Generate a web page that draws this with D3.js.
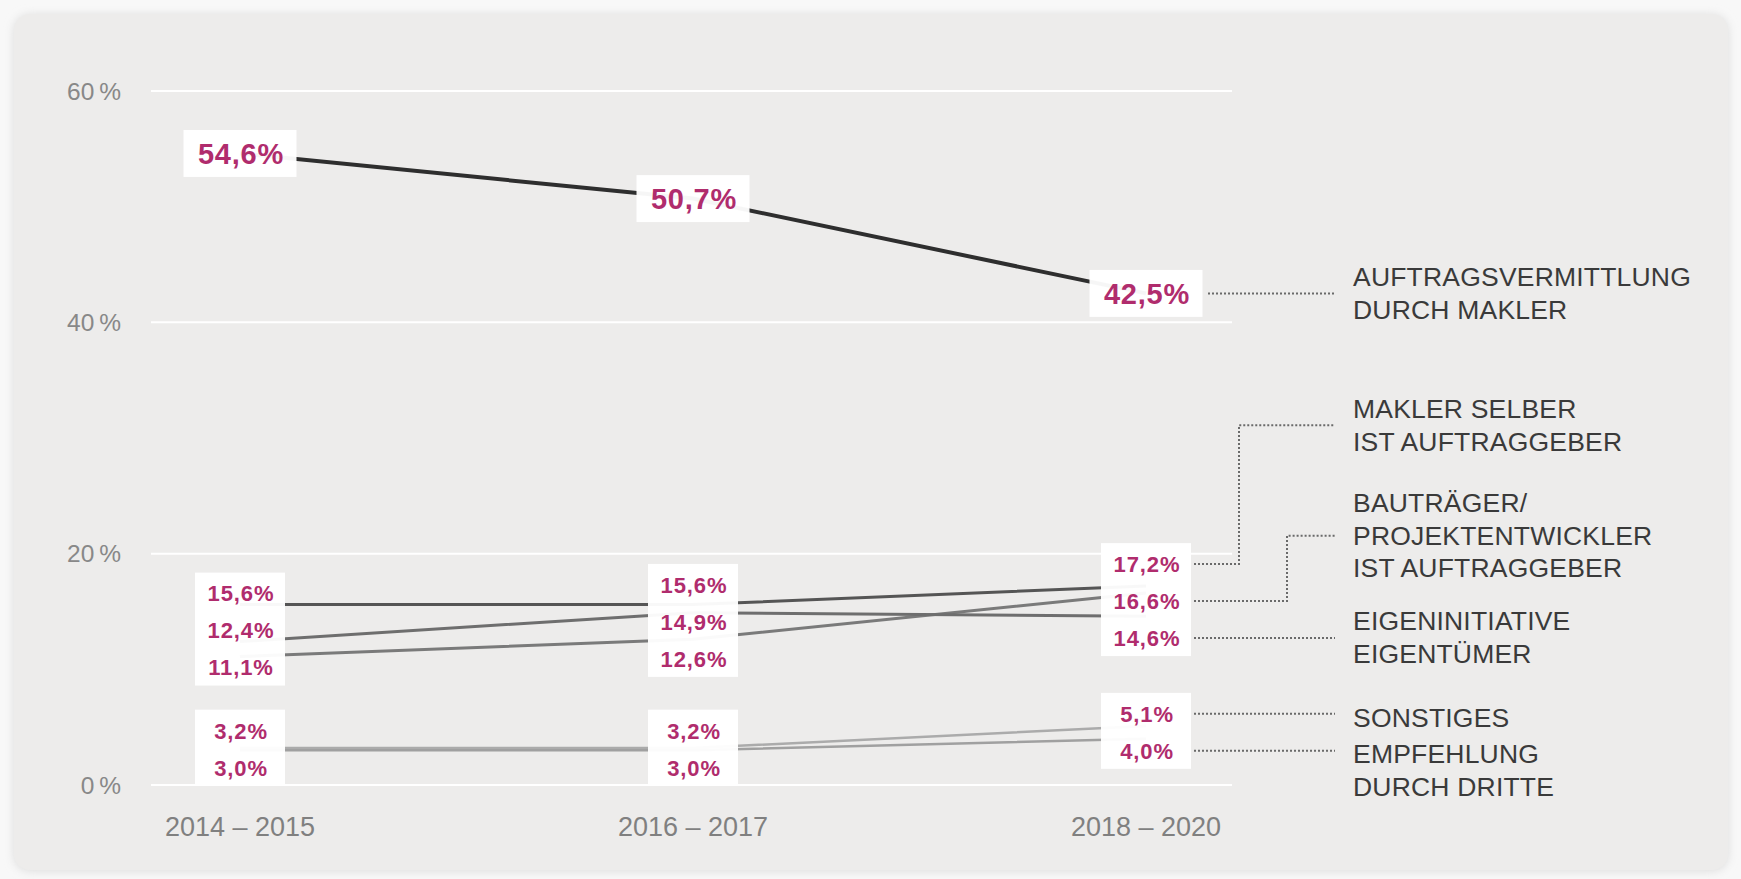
<!DOCTYPE html>
<html>
<head>
<meta charset="utf-8">
<script src="https://cdn.jsdelivr.net/npm/d3@7"></script>
<style>
html, body { margin: 0; padding: 0; background: #f8f8f8; }
svg { display: block; font-family: "Liberation Sans", Arial, Helvetica, sans-serif; }
</style>
</head>
<body>
<svg id="chart" width="1741" height="879"></svg>
<script>
// data
const periods = ["2014 – 2015", "2016 – 2017", "2018 – 2020"];
const yTicks = [0, 20, 40, 60];

const seriesKeys = ["makler", "maklerSelber", "bautraeger", "eigeninitiative", "sonstiges", "empfehlung"];
const makler = [54.6, 50.7, 42.5];
const maklerSelber = [15.6, 15.6, 17.2];
const bautraeger = [11.1, 12.6, 16.6];
const eigeninitiative = [12.4, 14.9, 14.6];
const sonstiges = [3.2, 3.2, 5.1];
const empfehlung = [3.0, 3.0, 4.0];

const legendText = [
    ["AUFTRAGSVERMITTLUNG", "DURCH MAKLER"],
    ["MAKLER SELBER", "IST AUFTRAGGEBER"],
    ["BAUTRÄGER/", "PROJEKTENTWICKLER", "IST AUFTRAGGEBER"],
    ["EIGENINITIATIVE", "EIGENTÜMER"],
    ["SONSTIGES"],
    ["EMPFEHLUNG", "DURCH DRITTE"]
];

// styles / layout
const lineColors = ["#2e2e2e", "#555555", "#7a7a7a", "#6e6e6e", "#ababab", "#a0a0a0"];
const lineWidths = [4, 3, 3, 3, 2.5, 2.5];
const legendBaseline = [286, 418, 512, 630, 727, 763];
const legendAnchorLine = [0.5, 0.5, 1, 0.5, 0, 0];
const elbowX = [null, 1239, 1287, null, null, null];
const legendLineH = 32.7;

const values = [makler, maklerSelber, bautraeger, eigeninitiative, sonstiges, empfehlung];
const series = seriesKeys.map((k, i) => ({ key: k, idx: i, values: values[i] }));

const svg = d3.select("#chart");

// card
const defs = svg.append("defs");
const f = defs.append("filter").attr("id", "shadow").attr("x", "-5%").attr("y", "-5%").attr("width", "110%").attr("height", "110%");
f.append("feGaussianBlur").attr("stdDeviation", 5);
svg.append("rect").attr("x", 14).attr("y", 15).attr("width", 1714).attr("height", 856)
    .attr("rx", 16).attr("fill", "#dcdcdc").attr("filter", "url(#shadow)");
svg.append("rect").attr("x", 14).attr("y", 14).attr("width", 1714).attr("height", 856)
    .attr("rx", 16).attr("fill", "#edeceb");

const x = d3.scalePoint().domain(periods).range([240, 1146]);
const y = d3.scaleLinear().domain([0, 60]).range([785, 91]);

// gridlines + y labels
svg.append("g").selectAll("line").data(yTicks).enter().append("line")
    .attr("x1", 151).attr("x2", 1232)
    .attr("y1", d => y(d)).attr("y2", d => y(d))
    .attr("stroke", "#ffffff").attr("stroke-width", 2);

svg.append("g").selectAll("text").data(yTicks).enter().append("text")
    .attr("x", 121).attr("y", d => y(d) + 8.8)
    .attr("text-anchor", "end")
    .attr("font-size", 24.5).attr("fill", "#888888")
    .text(d => d + "\u2009%");

// x labels
svg.append("g").selectAll("text").data(periods).enter().append("text")
    .attr("x", d => x(d)).attr("y", 836)
    .attr("text-anchor", "middle")
    .attr("font-size", 27).attr("fill", "#808080")
    .text(d => d);

// lines
const line = d3.line().x((d, i) => x(periods[i])).y(d => y(d));
svg.append("g").selectAll("path").data(series).enter().append("path")
    .attr("d", d => line(d.values))
    .attr("fill", "none")
    .attr("stroke", d => lineColors[d.idx])
    .attr("stroke-width", d => lineWidths[d.idx]);

// value labels, stacked in clusters per period
const fmt = v => d3.format(".1f")(v).replace(".", ",") + "%";
const rowH = 37;
const labelPos = series.map(() => []);
const boxes = [];
periods.forEach((p, pi) => {
    const sorted = series.slice().sort((a, b) => b.values[pi] - a.values[pi]);
    const clusters = [];
    sorted.forEach(s => {
        const last = clusters[clusters.length - 1];
        if (last && last[last.length - 1].values[pi] - s.values[pi] < 6) last.push(s);
        else clusters.push([s]);
    });
    clusters.forEach(c => {
        const big = c.length === 1;
        const ys = c.map(s => y(s.values[pi]));
        const mid = (d3.min(ys) + d3.max(ys)) / 2;
        const rows = c.map((s, i) => ({ s, cy: mid + (i - (c.length - 1) / 2) * rowH }));
        rows.forEach(r => { labelPos[r.s.idx][pi] = r.cy; });
        boxes.push({ pi, big, rows });
    });
});

const boxW = b => b.big ? 113 : 90;
const gBox = svg.append("g");
gBox.selectAll("rect").data(boxes).enter().append("rect")
    .attr("x", d => x(periods[d.pi]) - boxW(d) / 2)
    .attr("width", d => boxW(d))
    .attr("y", d => d.big ? d.rows[0].cy - 23.5 : d.rows[0].cy - 21)
    .attr("height", d => d.big ? 47 : (d.rows[d.rows.length - 1].cy + 18) - (d.rows[0].cy - 21))
    .attr("fill", "#ffffff").attr("fill-opacity", 0.96);

boxes.forEach(b => {
    gBox.selectAll(null).data(b.rows).enter().append("text")
        .attr("x", x(periods[b.pi]) + 1)
        .attr("y", r => r.cy + (b.big ? 10.3 : 7.9))
        .attr("text-anchor", "middle")
        .attr("font-weight", "bold")
        .attr("font-size", b.big ? 29 : 22)
        .attr("letter-spacing", b.big ? 0.8 : 0.9)
        .attr("fill", "#b02c6d")
        .text(r => fmt(r.s.values[b.pi]));
});

// connectors + legend
const lastX = x(periods[periods.length - 1]);
const x0 = lastX + 48, x1 = 1335;
const gLeg = svg.append("g");
series.forEach(s => {
    const i = s.idx;
    const ly = labelPos[i][periods.length - 1];
    const ay = legendBaseline[i] - 9 + legendAnchorLine[i] * legendLineH;
    let pts;
    if (elbowX[i] !== null) {
        pts = [[x0, ly], [elbowX[i], ly], [elbowX[i], ay], [x1, ay]];
    } else {
        pts = [[i === 0 ? lastX + 62 : x0, ly], [x1, ly]];
    }
    gLeg.append("path")
        .attr("d", d3.line()(pts))
        .attr("fill", "none")
        .attr("stroke", "#6a6a6a")
        .attr("stroke-width", 2)
        .attr("stroke-dasharray", "2,2");

    gLeg.append("text")
        .attr("x", 1353)
        .attr("font-size", 26.5)
        .attr("letter-spacing", 0.2)
        .attr("fill", "#3a3a3a")
        .selectAll("tspan").data(legendText[i]).enter().append("tspan")
        .attr("x", 1353)
        .attr("y", (d, j) => legendBaseline[i] + j * legendLineH)
        .text(d => d);
});
</script>
</body>
</html>
